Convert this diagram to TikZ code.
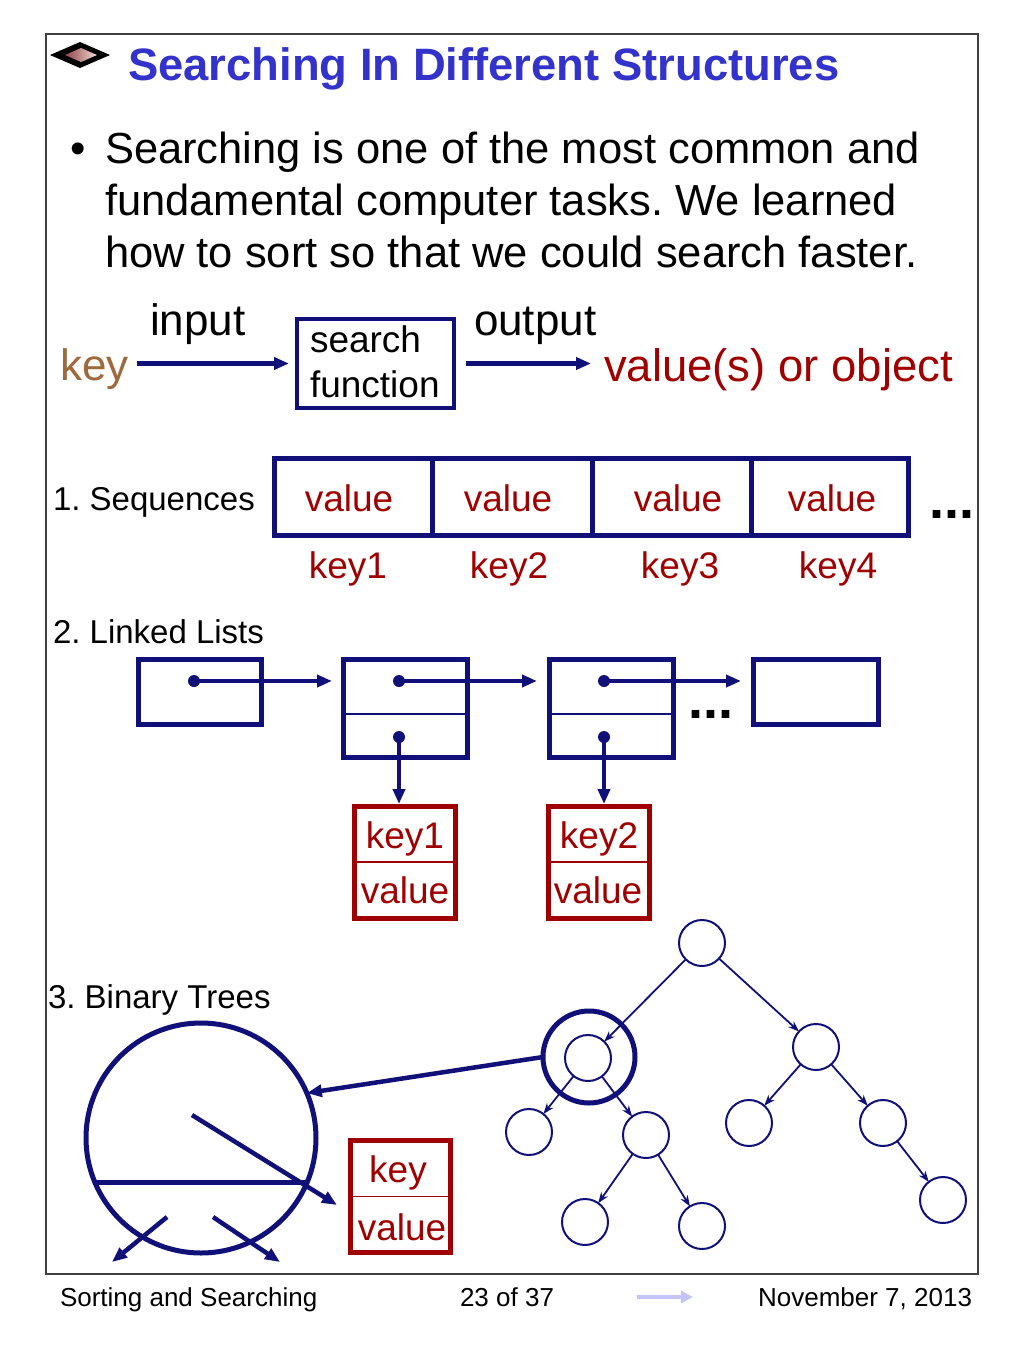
\documentclass[tikz,border=0pt]{standalone}
\usepackage{fontspec}
\setmainfont{Liberation Sans}
\usetikzlibrary{arrows.meta,shapes.geometric}
\definecolor{navy}{RGB}{16,16,120}
\definecolor{dkred}{RGB}{160,0,0}
\definecolor{keybrown}{RGB}{156,106,60}
\definecolor{titleblue}{RGB}{51,51,204}
\definecolor{lav}{RGB}{196,196,250}
\definecolor{gemdark}{RGB}{140,70,70}
\definecolor{gemlight}{RGB}{245,215,215}
\newcommand\fsz[1]{\fontsize{#1}{#1}\selectfont}
\frenchspacing
\begin{document}
\begin{tikzpicture}[x=1pt,y=-1pt,
  every node/.style={inner sep=0pt,outer sep=0pt},
  lbl/.style={anchor=base west,font=\fsz{#1}},
  clbl/.style={anchor=base,font=\fsz{#1}},
  cell/.style={draw=navy,line width=5,rectangle,minimum height=77},
  llbox/.style={draw=navy,line width=5,rectangle},
  rbox/.style={draw=dkred,line width=5,rectangle,minimum width=101,minimum height=112},
  divline/.style={line width=1.5},
  dotnode/.style={circle,fill=navy,minimum size=12},
  bigarrow/.style={draw=navy,line width=4.5,-{Triangle[length=15pt,width=12pt]}},
  tnode/.style={circle,draw=navy,line width=2,minimum size=46},
  tedge/.style={draw=navy,line width=1.8,-{Stealth[length=11pt,width=8pt]}}]
\useasboundingbox (0,0) rectangle (1024,1365);
\fill[white] (0,0) rectangle (1024,1365);
% frame
\draw[line width=1.2,black!75] (46,34) rectangle (978,1274);
% icon
\fill[black] (50,55) -- (80,42) -- (110,55) -- (80,68) -- cycle;
\shade[left color=gemdark,right color=gemlight] (65,55) -- (81,48) -- (97,55) -- (81,62) -- cycle;
% title
\node[lbl=45,text=titleblue,font=\fsz{45.4}\bfseries] (title) at (128,80) {Searching In Different Structures};
% bullet
\node[lbl=44] (bullet) at (70,163) {•};
\node[lbl=43.5] (b1) at (105,163) {Searching is one of the most common and};
\node[lbl=43.5] (b2) at (105,215) {fundamental computer tasks. We learned};
\node[lbl=43.5] (b3) at (105,267) {how to sort so that we could search faster.};
% input/output
\node[lbl=44] (in) at (150,335) {input};
\node[lbl=44] (out) at (474,335) {output};
\node[lbl=44,text=keybrown] (key) at (60,380) {key};
\node[lbl=45.5,text=dkred] (vo) at (604,381) {value(s) or object};
\node[draw=navy,line width=4,rectangle,minimum width=157,minimum height=89] (sf) at (375.5,363.5) {};
\node[lbl=37] (sft1) at (310,352) {search};
\node[lbl=37] (sft2) at (310,397) {function};
\draw[bigarrow,shorten <=9pt,shorten >=8pt] (key.east |- sf.west) -- (sf.west);
\draw[bigarrow,shorten <=12pt,shorten >=13pt] (sf.east) -- (vo.west |- sf.east);
% sequences
\node[lbl=33] (seq) at (53,510) {1. Sequences};
\node[cell,minimum width=157.5] (c1) at (353.25,497) {};
\node[cell,minimum width=160] (c2) at (512,497) {};
\node[cell,minimum width=159] (c3) at (671.5,497) {};
\node[cell,minimum width=157.5] (c4) at (829.75,497) {};
\node[clbl=37,text=dkred] (v1) at (349,511) {value};
\node[clbl=37,text=dkred] (v2) at (508,511) {value};
\node[clbl=37,text=dkred] (v3) at (678,511) {value};
\node[clbl=37,text=dkred] (v4) at (832,511) {value};
\node[clbl=37,text=dkred] (k1) at (348,578) {key1};
\node[clbl=37,text=dkred] (k2) at (509,578) {key2};
\node[clbl=37,text=dkred] (k3) at (680,578) {key3};
\node[clbl=37,text=dkred] (k4) at (838,578) {key4};
\node[lbl=54,font=\fsz{54}\bfseries] (sdots) at (929,518) {...};
% linked lists
\node[lbl=33] (ll) at (53,643) {2. Linked Lists};
\node[llbox,minimum width=123,minimum height=65] (L1) at (199.5,691.5) {};
\node[llbox,minimum width=124,minimum height=98] (L2) at (405,708) {};
\node[llbox,minimum width=124,minimum height=98] (L3) at (611,708) {};
\node[llbox,minimum width=125,minimum height=65] (L4) at (815.5,691.5) {};
\coordinate (dv) at (0,714);
\draw[navy,divline] (L2.west |- dv) -- (L2.east |- dv);
\draw[navy,divline] (L3.west |- dv) -- (L3.east |- dv);
\node[lbl=54,font=\fsz{54}\bfseries] (ldots) at (688,718) {...};
\node[rbox] (R1) at (405,862) {};
\node[rbox] (R2) at (599,862) {};
\draw[dkred,divline] (R1.west) -- (R1.east);
\draw[dkred,divline] (R2.west) -- (R2.east);
\node[clbl=37,text=dkred] (rk1) at (405,848) {key1};
\node[clbl=37,text=dkred] (rv1) at (405,903) {value};
\node[clbl=37,text=dkred] (rk2) at (599,848) {key2};
\node[clbl=37,text=dkred] (rv2) at (598,903) {value};
\node[dotnode] (p1) at (194,681) {};
\node[dotnode] (p2) at (399,681) {};
\node[dotnode] (p3) at (604,681) {};
\node[dotnode] (q2) at (399,737) {};
\node[dotnode] (q3) at (604,737) {};
\draw[bigarrow,line width=4,shorten >=11pt] (p1.center) -- (p1 -| L2.west);
\draw[bigarrow,line width=4,shorten >=12pt] (p2.center) -- (p2 -| L3.west);
\draw[bigarrow,line width=4,shorten >=12pt] (p3.center) -- (p3 -| L4.west);
\draw[bigarrow,line width=4,shorten >=2pt] (q2.center) -- (q2 |- R1.north);
\draw[bigarrow,line width=4,shorten >=2pt] (q3.center) -- (q3 |- R2.north);
% binary trees
\node[lbl=33] (bt) at (48,1008) {3. Binary Trees};
\node[circle,draw=navy,line width=5,minimum size=230] (B) at (201,1138) {};
\draw[navy,line width=5] (B.203) -- (B.337);
\node[rbox,minimum width=100] (KV) at (400.5,1196.5) {};
\draw[dkred,divline] (KV.west) -- (KV.east);
\node[clbl=37,text=dkred] (kvk) at (398,1182) {key};
\node[clbl=37,text=dkred] (kvv) at (402,1240) {value};
\coordinate (d1s) at (192,1115);
\coordinate (d1e) at (337,1205);
\coordinate (d2s) at (167,1217);
\coordinate (d2e) at (112,1262);
\coordinate (d3s) at (213,1217);
\coordinate (d3e) at (280,1262);
\draw[bigarrow] (d1s) -- (d1e);
\draw[bigarrow] (d2s) -- (d2e);
\draw[bigarrow] (d3s) -- (d3e);
% tree
\node[tnode] (r) at (702,943) {};
\node[tnode] (a) at (588,1058) {};
\node[tnode] (b) at (816,1047) {};
\node[tnode] (aa) at (529,1132) {};
\node[tnode] (ab) at (646,1135) {};
\node[tnode] (aba) at (585,1222) {};
\node[tnode] (abb) at (702,1226) {};
\node[tnode] (ba) at (749,1123) {};
\node[tnode] (bb) at (883,1123) {};
\node[tnode] (bbb) at (943,1200) {};
\node[circle,draw=navy,line width=5,minimum size=92] (ring) at (589,1057) {};
\draw[tedge] (r) -- (a);
\draw[tedge] (r) -- (b);
\draw[tedge] (a) -- (aa);
\draw[tedge] (a) -- (ab);
\draw[tedge] (ab) -- (aba);
\draw[tedge] (ab) -- (abb);
\draw[tedge] (b) -- (ba);
\draw[tedge] (b) -- (bb);
\draw[tedge] (bb) -- (bbb);
\draw[bigarrow] (ring.west) -- (B.23);
% footer
\node[lbl=26] (f1) at (60,1306) {Sorting and Searching};
\node[clbl=26] (f2) at (507,1306) {23 of 37};
\node[anchor=base east,font=\fsz{26}] (f3) at (972,1306) {November 7, 2013};
\coordinate (fa1) at (637,1297);
\coordinate (fa2) at (693,1297);
\draw[lav,line width=4,-{Triangle[length=12pt,width=12pt]}] (fa1) -- (fa2);
\end{tikzpicture}
\end{document}
